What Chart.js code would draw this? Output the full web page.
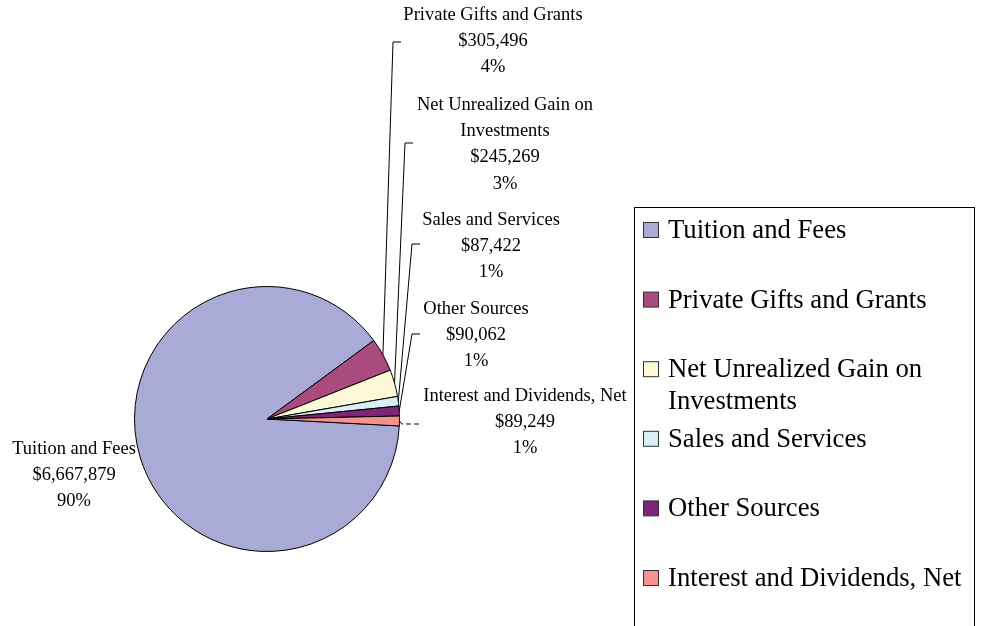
<!DOCTYPE html>
<html>
<head>
<meta charset="utf-8">
<script src="https://cdn.jsdelivr.net/npm/chart.js@4.4.1/dist/chart.umd.min.js"></script>
<style>
  html, body { margin: 0; padding: 0; background: #fff; }
  #wrap { position: relative; width: 984px; height: 626px; }
</style>
</head>
<body>
<div id="wrap"><canvas id="c"></canvas></div>
<script>
// ---- data ----
const categories = ['Tuition and Fees', 'Private Gifts and Grants', 'Net Unrealized Gain on Investments', 'Sales and Services', 'Other Sources', 'Interest and Dividends, Net'];
const amounts = [6667879, 305496, 245269, 87422, 90062, 89249];
const percentLabels = ['90%', '4%', '3%', '1%', '1%', '1%'];
const sliceColors = ['#AAAAD6', '#A94B7C', '#FDF9D6', '#D9EEF4', '#7C2679', '#F6928D'];

// ---- layout (positions / styles only) ----
const LABEL_FONT = '18.5px "Liberation Serif", "Times New Roman", serif';
const LEGEND_FONT = '26.7px "Liberation Serif", "Times New Roman", serif';
const labelLayout = [
  { x: 74,  y: 449 },
  { x: 493, y: 15 },
  { x: 505, y: 105 },
  { x: 491, y: 220 },
  { x: 476, y: 309 },
  { x: 525, y: 396 }
];
const leaderLayout = [
  null,
  { x: 393, y: 42,  x2: 401 },
  { x: 405, y: 143, x2: 413 },
  { x: 412, y: 244, x2: 420 },
  { x: 412, y: 334, x2: 420 },
  { x: 402, y: 424, x2: 421, dashed: true }
];

function wrapText(ctx, text, maxW) {
  const words = text.split(' ');
  const lines = [];
  let cur = '';
  for (const w of words) {
    const t = cur ? cur + ' ' + w : w;
    if (ctx.measureText(t).width > maxW && cur) { lines.push(cur); cur = w; }
    else cur = t;
  }
  if (cur) lines.push(cur);
  return lines;
}

const labelPlugin = {
  id: 'excelLabels',
  afterDraw(chart) {
    const ctx = chart.ctx;
    const meta = chart.getDatasetMeta(0);
    ctx.save();
    // leader lines
    ctx.strokeStyle = '#000';
    ctx.lineWidth = 1;
    meta.data.forEach((arc, i) => {
      const L = leaderLayout[i];
      if (!L) return;
      const p = arc.getProps(['x', 'y', 'startAngle', 'endAngle', 'outerRadius'], true);
      const mid = (p.startAngle + p.endAngle) / 2;
      const ax = p.x + Math.cos(mid) * p.outerRadius;
      const ay = p.y + Math.sin(mid) * p.outerRadius;
      ctx.beginPath();
      if (L.dashed) ctx.setLineDash([5, 3]); else ctx.setLineDash([]);
      ctx.moveTo(ax, ay);
      ctx.lineTo(L.x, L.y);
      ctx.lineTo(L.x2, L.y);
      ctx.stroke();
    });
    ctx.setLineDash([]);
    // data labels
    ctx.font = LABEL_FONT;
    ctx.fillStyle = '#000';
    ctx.textAlign = 'center';
    ctx.textBaseline = 'middle';
    categories.forEach((name, i) => {
      const lines = wrapText(ctx, name, 210);
      lines.push('$' + amounts[i].toLocaleString('en-US'));
      lines.push(percentLabels[i]);
      const pos = labelLayout[i];
      lines.forEach((ln, k) => ctx.fillText(ln, pos.x, pos.y + k * 26.3));
    });
    // legend
    ctx.strokeStyle = '#000';
    ctx.lineWidth = 1;
    ctx.strokeRect(634.5, 207.5, 340, 440);
    ctx.font = LEGEND_FONT;
    ctx.textAlign = 'left';
    ctx.textBaseline = 'middle';
    categories.forEach((name, i) => {
      const y = 230 + i * 69.6;
      ctx.fillStyle = sliceColors[i];
      ctx.fillRect(643.5, y - 7.5, 15, 15);
      ctx.strokeStyle = '#333';
      ctx.strokeRect(643.5, y - 7.5, 15, 15);
      ctx.fillStyle = '#000';
      const lines = wrapText(ctx, name, 300);
      lines.forEach((ln, k) => ctx.fillText(ln, 668, y + 1 + k * 32));
    });
    ctx.restore();
  }
};

new Chart(document.getElementById('c'), {
  type: 'pie',
  data: {
    labels: categories,
    datasets: [{
      data: amounts,
      backgroundColor: sliceColors,
      borderColor: '#000',
      borderWidth: 1
    }]
  },
  options: {
    responsive: true,
    maintainAspectRatio: false,
    animation: false,
    rotation: 93,
    radius: 132.5,
    layout: { padding: { left: 134.5, right: 584.5, top: 286.5, bottom: 74.5 } },
    plugins: {
      legend: { display: false },
      tooltip: { enabled: false }
    }
  },
  plugins: [labelPlugin]
});
</script>
</body>
</html>
